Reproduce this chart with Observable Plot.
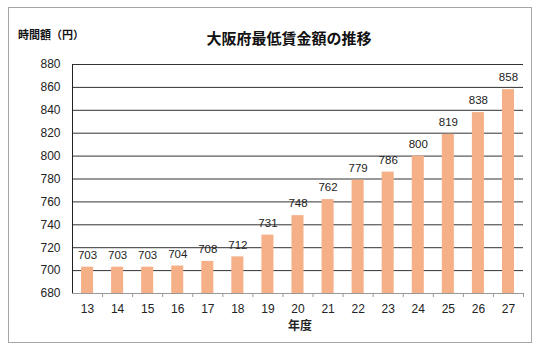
<!DOCTYPE html>
<html>
<head>
<meta charset="utf-8">
<script src="https://cdn.jsdelivr.net/npm/d3@7"></script>
<script src="https://cdn.jsdelivr.net/npm/@observablehq/plot@0.6"></script>
<style>
  body { margin: 0; background: #fff; font-family: "Noto Sans CJK JP", sans-serif; }
  #wrap { position: relative; width: 550px; height: 355px; overflow: hidden; }
  #frame { position: absolute; left: 8px; top: 7px; width: 524px; height: 336px; border: 1px solid #a6a6a6; box-sizing: border-box; pointer-events: none; }
  #title { position: absolute; left: 0; width: 578px; top: 27px; text-align: center; font-size: 15px; font-weight: bold; color: #111; }
  #unit { position: absolute; left: 18px; top: 26px; font-size: 11px; font-weight: bold; color: #111; }
  #chart { position: absolute; left: 0; top: 0; }
</style>
</head>
<body>
<div id="wrap">
  <div id="chart"></div>
  <div id="frame"></div>
  <div id="title">大阪府最低賃金額の推移</div>
  <div id="unit">時間額（円）</div>
</div>
<script>
const years = [13, 14, 15, 16, 17, 18, 19, 20, 21, 22, 23, 24, 25, 26, 27];
const wages = [703, 703, 703, 704, 708, 712, 731, 748, 762, 779, 786, 800, 819, 838, 858];
const yTicks = [680, 700, 720, 740, 760, 780, 800, 820, 840, 860, 880];
const xLabel = "年度";

const data = years.map((y, i) => ({year: y, wage: wages[i]}));
const boundaries = years.map(y => y + 0.5);

const chart = Plot.plot({
  width: 550,
  height: 355,
  marginLeft: 72,
  marginRight: 27,
  marginTop: 64,
  marginBottom: 62,
  style: {fontFamily: "'Liberation Sans', Arial, sans-serif", fontSize: "12px", color: "#222"},
  x: {domain: [12.5, 27.5]},
  y: {domain: [680, 880]},
  marks: [
    Plot.gridY(yTicks.filter(t => t > 680), {stroke: "#333", strokeOpacity: 1, strokeWidth: 1}),
    Plot.rectY(data, {x1: d => d.year - 0.2, x2: d => d.year + 0.2, y1: 680, y2: "wage", fill: "#f5b088"}),
    Plot.text(data, {x: "year", y: "wage", text: d => String(d.wage), dy: -12, fontSize: 11.5, fill: "#222"}),
    Plot.axisY(yTicks, {tickSize: 0, tickPadding: 12, fontSize: 12, label: null, tickFormat: d => String(d)}),
    Plot.ruleX([12.5], {stroke: "#222"}),
    Plot.ruleY([680], {stroke: "#999"}),
    Plot.axisX(boundaries, {tickSize: 4, stroke: "#999", tickFormat: () => "", label: null}),
    Plot.axisX(years, {tickSize: 0, tickPadding: 11, fontSize: 12, label: null, tickFormat: d => String(d)}),
    Plot.text([xLabel], {frameAnchor: "bottom", dy: 36, dx: 2, fontSize: 12, fontWeight: "bold", fontFamily: "'Noto Sans CJK JP', sans-serif", fill: "#222"})
  ]
});
document.getElementById("chart").appendChild(chart);
</script>
</body>
</html>
